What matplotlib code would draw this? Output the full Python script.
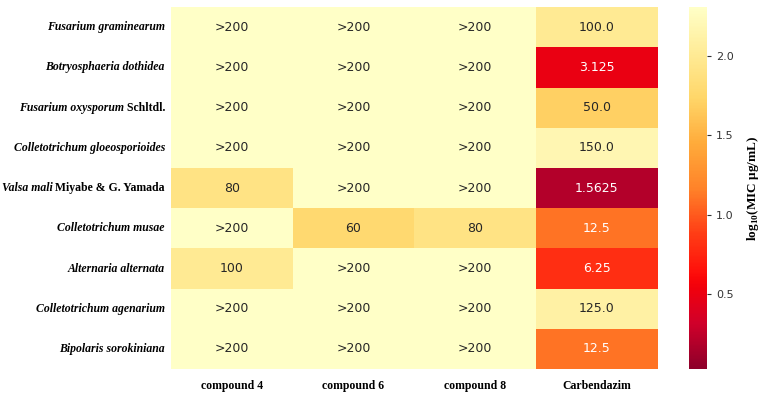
import numpy as np
import matplotlib
matplotlib.use("Agg")
import matplotlib.pyplot as plt
import matplotlib.colors as mcolors
import seaborn as sns

# species names: italic part + plain (authority) part
species_italic = ["Fusarium graminearum", "Botryosphaeria dothidea", "Fusarium oxysporum",
                  "Colletotrichum gloeosporioides", "Valsa mali", "Colletotrichum musae",
                  "Alternaria alternata", "Colletotrichum agenarium", "Bipolaris sorokiniana"]
species_plain = ["", "", " Schltdl.", "", " Miyabe & G. Yamada", "", "", "", ""]
compounds = ["compound 4", "compound 6", "compound 8", "Carbendazim"]

# MIC values (ug/mL), 200 stands for ">200"
mic_c4 = [200, 200, 200, 200, 80, 200, 100, 200, 200]
mic_c6 = [200, 200, 200, 200, 200, 60, 200, 200, 200]
mic_c8 = [200, 200, 200, 200, 200, 80, 200, 200, 200]
mic_carb = [100.0, 3.125, 50.0, 150.0, 1.5625, 12.5, 6.25, 125.0, 12.5]

lab_c4 = [">200", ">200", ">200", ">200", "80", ">200", "100", ">200", ">200"]
lab_c6 = [">200", ">200", ">200", ">200", ">200", "60", ">200", ">200", ">200"]
lab_c8 = [">200", ">200", ">200", ">200", ">200", "80", ">200", ">200", ">200"]
lab_carb = ["100.0", "3.125", "50.0", "150.0", "1.5625", "12.5", "6.25", "125.0", "12.5"]

plt.rcParams["mathtext.fontset"] = "custom"
plt.rcParams["mathtext.rm"] = "Liberation Serif:bold"
plt.rcParams["mathtext.bf"] = "Liberation Serif:bold"

# slightly more saturated YlOrRd_r, the reference looks punchier
base = plt.get_cmap("YlOrRd_r")(np.linspace(0, 1, 256))[:, :3]
hsv = mcolors.rgb_to_hsv(base)
hsv[:, 1] = np.clip(hsv[:, 1] * 1.1, 0, 1)
hsv[:, 2] = np.clip(hsv[:, 2] * 1.1, 0, 1)
cmap = mcolors.ListedColormap(mcolors.hsv_to_rgb(hsv))

data = np.log10(np.array([mic_c4, mic_c6, mic_c8, mic_carb], dtype=float).T)
labels = np.array([lab_c4, lab_c6, lab_c8, lab_carb]).T

fig = plt.figure(figsize=(7.63, 3.96), dpi=100)
ax = fig.add_axes([0.224, 0.068, 0.638, 0.914])
cax = fig.add_axes([0.903, 0.068, 0.0236, 0.914])

sns.heatmap(data, ax=ax, cbar_ax=cax, cmap=cmap, vmin=0.03, vmax=2.305,
            annot=labels, fmt="", annot_kws={"fontsize": 9},
            xticklabels=compounds, yticklabels=False)

ax.tick_params(length=0)
for t in ax.get_xticklabels():
    t.set_fontfamily("Liberation Serif")
    t.set_fontweight("bold")
    t.set_fontsize(8.5)
    t.set_rotation(0)
ax.tick_params(axis="x", pad=8)

# y labels with mixed italic / upright parts
for i in range(len(species_italic)):
    y = i + 0.5
    if species_plain[i]:
        t1 = ax.annotate(species_plain[i], xy=(0, y), xycoords=("axes fraction", "data"),
                         xytext=(-6, 0), textcoords="offset pixels", ha="right", va="center",
                         fontfamily="Liberation Serif", fontweight="bold", fontsize=8.5)
        ax.annotate(species_italic[i], xy=(0, 0), xycoords=t1, ha="right", va="bottom",
                    fontfamily="Liberation Serif", fontweight="bold", fontstyle="italic", fontsize=8.5)
    else:
        ax.annotate(species_italic[i], xy=(0, y), xycoords=("axes fraction", "data"),
                    xytext=(-6, 0), textcoords="offset pixels", ha="right", va="center",
                    fontfamily="Liberation Serif", fontweight="bold", fontstyle="italic", fontsize=8.5)

cax.set_yticks([0.5, 1.0, 1.5, 2.0])
cax.tick_params(labelsize=8, labelcolor="#333333", color="#333333", length=3)
cax.set_ylabel(r"log$_{10}$(MIC μg/mL)", fontfamily="Liberation Serif", fontweight="bold",
               fontsize=9.5, labelpad=8)

fig.savefig("out.png", dpi=100)
